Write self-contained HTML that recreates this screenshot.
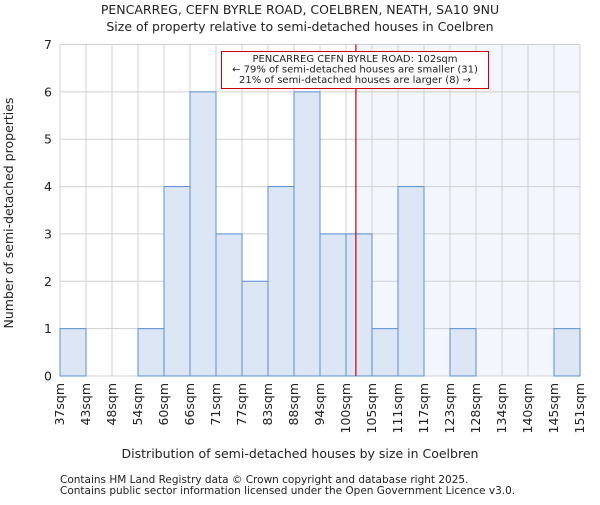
<!DOCTYPE html>
<html><head><meta charset="utf-8"><style>
body{margin:0;background:#fff}
text{font-family:"DejaVu Sans","Liberation Sans",sans-serif;fill:#222}
</style></head><body>
<svg id="chart" width="600" height="500" xmlns="http://www.w3.org/2000/svg">
<text x="300" y="14" font-size="12.5" text-anchor="middle">PENCARREG, CEFN BYRLE ROAD, COELBREN, NEATH, SA10 9NU</text>
<text x="300" y="31" font-size="12.5" text-anchor="middle">Size of property relative to semi-detached houses in Coelbren</text>
<g id="plot"></g>
<text x="300" y="458" font-size="12.5" text-anchor="middle">Distribution of semi-detached houses by size in Coelbren</text>
<text transform="translate(13,213) rotate(-90)" font-size="12.5" text-anchor="middle">Number of semi-detached properties</text>
<text x="60" y="483" font-size="10.5">Contains HM Land Registry data © Crown copyright and database right 2025.</text>
<text x="60" y="494" font-size="10.5">Contains public sector information licensed under the Open Government Licence v3.0.</text>
</svg>
<script>
const binLabels=["37sqm","43sqm","48sqm","54sqm","60sqm","66sqm","71sqm","77sqm","83sqm","88sqm","94sqm","100sqm","105sqm","111sqm","117sqm","123sqm","128sqm","134sqm","140sqm","145sqm","151sqm"];
const counts=[1,0,0,1,4,6,3,2,4,6,3,3,1,4,0,1,0,0,0,1];
const yTicks=[0,1,2,3,4,5,6,7];
const markerBin=11.38;
const ns="http://www.w3.org/2000/svg";
const L=60,R=580,T=44.5,B=376,ymax=7;
const bw=(R-L)/counts.length;
const xs=i=>L+i*bw;
const ys=v=>B-(v/ymax)*(B-T);
const g=document.getElementById('plot');
function mk(t,a){const e=document.createElementNS(ns,t);for(const k in a)e.setAttribute(k,a[k]);g.appendChild(e);return e;}
let e;
const mx=xs(markerBin);
e=mk('rect',{x:mx,y:T,width:R-mx,height:B-T,fill:'#f3f6fd'});


binLabels.forEach((l,i)=>{e=mk('line',{x1:xs(i),x2:xs(i),y1:T,y2:B,stroke:'#d0d0d0','stroke-width':1});

});
yTicks.forEach(v=>{e=mk('line',{x1:L,x2:R,y1:ys(v),y2:ys(v),stroke:'#d0d0d0','stroke-width':1});


e=mk('text',{x:L-8,y:ys(v)+4.5,'font-size':12.5,'text-anchor':'end'});e.textContent=v;

});
counts.forEach((c,i)=>{if(c>0){e=mk('rect',{x:xs(i),y:ys(c),width:bw,height:B-ys(c),fill:'#dce6f4',stroke:'#5b8fd6','stroke-width':1});

}});
binLabels.forEach((l,i)=>{const x=xs(i)+4;e=mk('text',{transform:`translate(${x},383) rotate(-90)`,'font-size':12.5,'text-anchor':'end'});e.textContent=l;

});
e=mk('line',{x1:mx,x2:mx,y1:T,y2:B,stroke:'#cc0000','stroke-width':1.2});


e=mk('rect',{x:221.5,y:51.5,width:267,height:37,fill:'#fff',stroke:'#cc0000','stroke-width':1});


["PENCARREG CEFN BYRLE ROAD: 102sqm","← 79% of semi-detached houses are smaller (31)","21% of semi-detached houses are larger (8) →"].forEach((t,i)=>{e=mk('text',{x:355,y:62+i*10.6,'font-size':10,'text-anchor':'middle'});e.textContent=t;

});
</script>
</body></html>
